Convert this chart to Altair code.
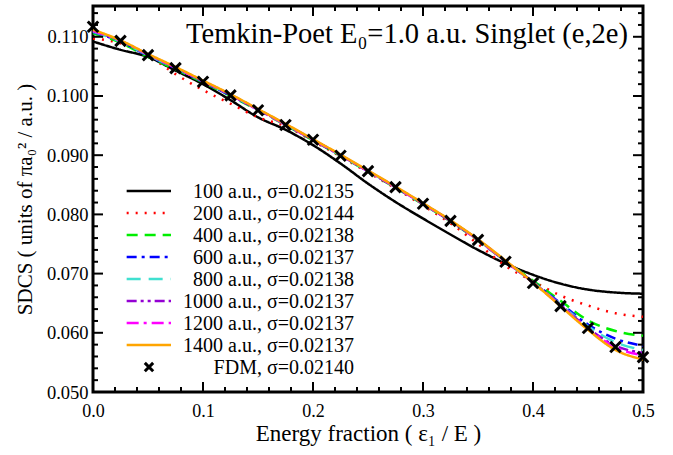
import altair as alt
import pandas as pd

# ---------------- data ----------------
energy_fraction = [0.000, 0.025, 0.050, 0.075, 0.100, 0.125, 0.150, 0.175, 0.200, 0.225,
                   0.250, 0.275, 0.300, 0.325, 0.350, 0.375, 0.400, 0.425, 0.450, 0.475, 0.500]

sdcs_100 = [0.1092, 0.1078, 0.1066, 0.1043, 0.1020, 0.0993, 0.0964, 0.0943, 0.0917, 0.0886,
            0.0852, 0.0821, 0.0793, 0.0766, 0.0740, 0.0717, 0.0698, 0.0683, 0.0673, 0.0668, 0.0666]
sdcs_200 = [0.1097, 0.1089, 0.1068, 0.1037, 0.1010, 0.0987, 0.0964, 0.0949, 0.0924, 0.0898,
            0.0871, 0.0844, 0.0815, 0.0785, 0.0750, 0.0713, 0.0687, 0.0663, 0.0646, 0.0633, 0.0627]
sdcs_400 = [0.1106, 0.1090, 0.1066, 0.1045, 0.1023, 0.1000, 0.0976, 0.0951, 0.0925, 0.0899,
            0.0872, 0.0845, 0.0817, 0.0788, 0.0756, 0.0721, 0.0688, 0.0654, 0.0621, 0.0603, 0.0595]
sdcs_600 = [0.1108, 0.1092, 0.1068, 0.1047, 0.1024, 0.1001, 0.0977, 0.0952, 0.0926, 0.0900,
            0.0873, 0.0846, 0.0818, 0.0789, 0.0757, 0.0721, 0.0686, 0.0650, 0.0614, 0.0590, 0.0578]
sdcs_800 = [0.1109, 0.1092, 0.1069, 0.1047, 0.1025, 0.1002, 0.0977, 0.0952, 0.0926, 0.0900,
            0.0873, 0.0846, 0.0818, 0.0789, 0.0757, 0.0721, 0.0685, 0.0648, 0.0611, 0.0584, 0.0571]
sdcs_1000 = [0.1110, 0.1093, 0.1070, 0.1048, 0.1025, 0.1002, 0.0977, 0.0952, 0.0926, 0.0900,
             0.0873, 0.0846, 0.0818, 0.0789, 0.0757, 0.0721, 0.0685, 0.0647, 0.0608, 0.0578, 0.0566]
sdcs_1200 = [0.1110, 0.1093, 0.1070, 0.1048, 0.1025, 0.1002, 0.0977, 0.0952, 0.0926, 0.0900,
             0.0873, 0.0846, 0.0818, 0.0789, 0.0757, 0.0721, 0.0685, 0.0646, 0.0607, 0.0575, 0.0562]
sdcs_1400 = [0.1112, 0.1094, 0.1071, 0.1049, 0.1026, 0.1003, 0.0978, 0.0953, 0.0927, 0.0901,
             0.0874, 0.0847, 0.0819, 0.0790, 0.0758, 0.0722, 0.0685, 0.0645, 0.0605, 0.0571, 0.0555]
sdcs_fdm = [0.1117, 0.1093, 0.1069, 0.1047, 0.1024, 0.1001, 0.0976, 0.0951, 0.0926, 0.0899,
            0.0873, 0.0846, 0.0818, 0.0789, 0.0757, 0.0720, 0.0684, 0.0645, 0.0608, 0.0576, 0.0559]

series_labels = ["100 a.u., σ=0.02135", "200 a.u., σ=0.02144", "400 a.u., σ=0.02138",
                 "600 a.u., σ=0.02137", "800 a.u., σ=0.02138", "1000 a.u., σ=0.02137",
                 "1200 a.u., σ=0.02137", "1400 a.u., σ=0.02137"]
fdm_label = "FDM, σ=0.02140"

x_major_ticks = [0.0, 0.1, 0.2, 0.3, 0.4, 0.5]
x_minor_ticks = [0.02, 0.04, 0.06, 0.08, 0.12, 0.14, 0.16, 0.18, 0.22, 0.24, 0.26, 0.28,
                 0.32, 0.34, 0.36, 0.38, 0.42, 0.44, 0.46, 0.48]
y_major_ticks = [0.05, 0.06, 0.07, 0.08, 0.09, 0.10, 0.11]
y_minor_ticks = [0.052, 0.054, 0.056, 0.058, 0.062, 0.064, 0.066, 0.068, 0.072, 0.074,
                 0.076, 0.078, 0.082, 0.084, 0.086, 0.088, 0.092, 0.094, 0.096, 0.098,
                 0.102, 0.104, 0.106, 0.108, 0.112, 0.114]

title_text = "Temkin-Poet E₀=1.0 a.u. Singlet (e,2e)"
x_title = "Energy fraction ( ε₁ / E )"
y_title = "SDCS ( units of πa₀² / a.u. )"

# ---------------- styles ----------------
FONT = "'Liberation Serif', 'Times New Roman', Times, serif"
colors = ["#000000", "#ff0000", "#00ee00", "#0000ff", "#40e0d0", "#9400d3", "#ff00ff", "#ffa500"]
dashes = [[1, 0], [2, 7], [11, 7], [10, 5, 3, 5], [14, 8], [10, 4, 3, 4, 3, 4], [12, 5, 3, 5], [1, 0]]
CROSS = "M-1,-1L1,1M-1,1L1,-1"

W, H = 550, 386
xs = alt.Scale(domain=[0, 0.5], nice=False, zero=False)
ys = alt.Scale(domain=[0.05, 0.1152], nice=False, zero=False)
x_axis = alt.Axis(values=x_major_ticks, format=".1f", ticks=False, domain=False, grid=False,
                  labelFlush=False, labelOverlap=False,
                  labelFont=FONT, labelFontSize=18, labelColor="black", labelPadding=10,
                  titleFont=FONT, titleFontSize=23, titleFontWeight="normal", titleColor="black",
                  titlePadding=2)
y_axis = alt.Axis(values=y_major_ticks, format=".3f", ticks=False, domain=False, grid=False,
                  labelFlush=False, labelOverlap=False,
                  labelFont=FONT, labelFontSize=18.5, labelColor="black", labelPadding=5,
                  titleFont=FONT, titleFontSize=21, titleFontWeight="normal", titleColor="black",
                  titlePadding=11)


def X(field):
    return alt.X(f"{field}:Q", scale=xs, axis=x_axis, title=x_title)


def Y(field):
    return alt.Y(f"{field}:Q", scale=ys, axis=y_axis, title=y_title)


layers = []

# curves
all_series = [sdcs_100, sdcs_200, sdcs_400, sdcs_600, sdcs_800, sdcs_1000, sdcs_1200, sdcs_1400]
for vals, col, dash in zip(all_series, colors, dashes):
    d = pd.DataFrame({"x": energy_fraction, "y": vals})
    layers.append(
        alt.Chart(d).mark_line(color=col, strokeDash=dash, strokeWidth=2.5,
                               interpolate="monotone", strokeCap="butt")
        .encode(x=X("x"), y=Y("y"))
    )

# FDM crosses
fdm_df = pd.DataFrame({"x": energy_fraction, "y": sdcs_fdm})
layers.append(
    alt.Chart(fdm_df).mark_point(shape=CROSS, filled=False, color="black", strokeWidth=3,
                                 size=110, opacity=1)
    .encode(x=X("x"), y=Y("y"))
)

# legend (positioned in data coordinates)
leg_top, leg_step = 0.08395, 0.003716
leg_x0, leg_x1, leg_text_x, leg_mark_x = 0.0306, 0.0709, 0.2373, 0.0509
for i, (col, dash) in enumerate(zip(colors, dashes)):
    d = pd.DataFrame({"x0": [leg_x0], "x1": [leg_x1], "y": [leg_top - i * leg_step]})
    layers.append(
        alt.Chart(d).mark_rule(color=col, strokeDash=dash, strokeWidth=2.5, strokeCap="butt")
        .encode(x=X("x0"), x2="x1", y=Y("y"))
    )
leg_fdm = pd.DataFrame({"x": [leg_mark_x], "y": [leg_top - 8 * leg_step]})
layers.append(
    alt.Chart(leg_fdm).mark_point(shape=CROSS, filled=False, color="black", strokeWidth=3,
                                  size=70, opacity=1)
    .encode(x=X("x"), y=Y("y"))
)
leg_text = pd.DataFrame({
    "label": series_labels + [fdm_label],
    "x": [leg_text_x] * 9,
    "y": [leg_top - i * leg_step for i in range(9)],
})
layers.append(
    alt.Chart(leg_text).mark_text(align="right", baseline="middle", font=FONT, fontSize=20,
                                  color="black", dy=1)
    .encode(x=X("x"), y=Y("y"), text="label:N")
)

# inside ticks on all four sides
xmaj = pd.DataFrame({"t": x_major_ticks})
xmin = pd.DataFrame({"t": x_minor_ticks})
ymaj = pd.DataFrame({"t": y_major_ticks})
ymin = pd.DataFrame({"t": y_minor_ticks})
for dfx, L in [(xmaj, 10), (xmin, 5)]:
    layers.append(alt.Chart(dfx).mark_rule(color="black", strokeWidth=2)
                  .encode(x=X("t"), y=alt.value(H), y2=alt.value(H - L)))
    layers.append(alt.Chart(dfx).mark_rule(color="black", strokeWidth=2)
                  .encode(x=X("t"), y=alt.value(0), y2=alt.value(L)))
for dfy, L in [(ymaj, 10), (ymin, 5)]:
    layers.append(alt.Chart(dfy).mark_rule(color="black", strokeWidth=2)
                  .encode(y=Y("t"), x=alt.value(0), x2=alt.value(L)))
    layers.append(alt.Chart(dfy).mark_rule(color="black", strokeWidth=2)
                  .encode(y=Y("t"), x=alt.value(W), x2=alt.value(W - L)))

# title inside plot
title_df = pd.DataFrame({"t": [title_text]})
layers.append(
    alt.Chart(title_df).mark_text(align="right", baseline="alphabetic", font=FONT, fontSize=28.5,
                                  color="black")
    .encode(x=alt.value(535), y=alt.value(37), text="t:N")
)

chart = (
    alt.layer(*layers)
    .properties(width=W, height=H, autosize=alt.AutoSizeParams(type="none"),
                padding={"left": 93, "top": 6, "right": 30, "bottom": 63},
                background="white")
    .configure_view(stroke="black", strokeWidth=3)
)

chart.save("out.html", embed_options={"renderer": "svg", "actions": False})
